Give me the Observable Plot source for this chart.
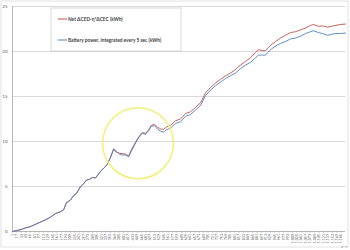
<!DOCTYPE html>
<html>
<head>
<meta charset="utf-8">
<script src="https://cdn.jsdelivr.net/npm/d3@7"></script>
<script src="https://cdn.jsdelivr.net/npm/@observablehq/plot@0.6"></script>
<style>
  html, body { margin: 0; padding: 0; background: #fff; }
</style>
</head>
<body>
<div id="chart"></div>
<script>
const seriesNames = ["Net \u0394CED-\u03b7*\u0394CEC (kWh)", "Battery power, integrated every 5 sec (kWh)"];
const seriesColors = ["#c0504d", "#4f81bd"];

const sampleIndex = [1,15,30,48,66,84,102,120,138,156,
  174,185,195,210,221,231,246,257,267,278,
  289,300,311,321,332,343,354,365,375,386,
  397,408,419,429,440,451,462,469,480,491,
  501,512,523,534,545,555,570,588,606,624,
  642,660,678,696,714,732,750,768,786,804,
  822,840,858,876,887,901,912,930,948,966,
  984,1002,1020,1038,1056,1074,1085,1103,1117,1135,
  1149,1163,1182,1200];

const netCED = [0,0.1,0.2,0.4,0.55,0.8,1.05,1.3,1.6,2.0,
  2.2,2.4,3.2,3.5,4.0,4.2,5.0,5.3,5.7,5.8,
  6.0,5.95,6.4,6.8,7.1,7.5,8.2,9.1,8.8,8.7,
  8.65,8.6,8.4,9.1,9.7,10.3,10.8,11.0,10.9,11.3,
  11.8,11.9,11.6,11.4,11.35,11.6,11.8,12.3,12.5,13.1,
  13.3,13.8,14.3,15.4,16.0,16.5,16.9,17.3,17.6,18.0,
  18.5,18.9,19.3,19.9,20.2,20.1,20.1,20.7,21.1,21.5,
  21.8,22.1,22.2,22.4,22.6,22.9,23.0,22.8,22.85,22.7,
  22.8,22.9,23.0,23.05];

const batteryPower = [0,0.1,0.2,0.4,0.55,0.8,1.05,1.3,1.6,2.0,
  2.2,2.4,3.2,3.5,4.0,4.2,5.0,5.3,5.7,5.8,
  6.0,5.95,6.4,6.8,7.1,7.5,8.3,9.2,8.9,8.6,
  8.5,8.5,8.3,8.9,9.6,10.2,10.7,10.9,10.8,11.2,
  11.7,11.75,11.4,11.15,11.05,11.3,11.5,12.0,12.2,12.8,
  13.0,13.5,14.0,15.1,15.7,16.2,16.6,17.0,17.3,17.6,
  18.1,18.5,18.8,19.3,19.6,19.6,19.6,20.2,20.6,20.9,
  21.1,21.4,21.5,21.7,22.0,22.2,22.3,22.1,22.0,21.8,
  21.9,22.0,22.0,22.05];

const yTicks = [0,5,10,15,20,25];
const xTicks = [1,17,33,49,65,81,97,113,129,145,161,177,193,209,225,241,257,273,289,305,
  321,337,353,369,385,401,417,433,449,465,481,497,513,529,545,561,577,593,609,625,
  641,657,673,689,705,721,737,753,769,785,801,817,833,849,865,881,897,913,929,945,
  961,977,993,1009,1025,1041,1057,1073,1089,1105,1121,1137,1153,1169,1185];

const highlightX = [453];
const highlightY = [9.8];

const rows = sampleIndex.map((x, i) => ({x, net: netCED[i], bat: batteryPower[i]}));
const circle = highlightX.map((x, i) => ({x, y: highlightY[i]}));

const chart = Plot.plot({
  width: 350,
  height: 250,
  marginLeft: 12,
  marginRight: 5,
  marginTop: 6,
  marginBottom: 19,
  style: {fontFamily: "Lato, 'Liberation Sans', sans-serif", background: "#fff", color: "#595959"},
  x: {type: "linear", domain: [1, 1200]},
  y: {domain: [0, 25]},
  marks: [
    Plot.ruleY(yTicks.filter(d => d > 0), {stroke: "#d0d0d0", strokeWidth: 0.8}),
    Plot.ruleX([1], {stroke: "#a6a6a6", strokeWidth: 0.8}),
    Plot.ruleY([0], {stroke: "#a6a6a6", strokeWidth: 0.8}),
    Plot.axisY(yTicks, {tickSize: 0, tickPadding: 5, fontSize: 4.5, fill: "#595959"}),
    Plot.axisX(xTicks, {tickSize: 1.5, tickRotate: -90, fontSize: 3.6, tickPadding: 1, fill: "#595959", stroke: "#a6a6a6"}),
    Plot.line(rows, {x: "x", y: "net", stroke: seriesColors[0], strokeWidth: 0.9}),
    Plot.line(rows, {x: "x", y: "bat", stroke: seriesColors[1], strokeWidth: 0.9}),
    Plot.dot(circle, {x: "x", y: "y", r: 35.5, fill: "none", stroke: "#f3f07a", strokeWidth: 1.6})
  ]
});

const svg = d3.select(chart);
// outer chart border
svg.append("rect").attr("x", 1).attr("y", 1).attr("width", 347).attr("height", 246)
  .attr("fill", "none").attr("stroke", "#d9d9d9").attr("stroke-width", 0.8);

// legend
const lg = svg.append("g").attr("text-anchor", "start");
lg.append("rect").attr("x", 51).attr("y", 8).attr("width", 130).attr("height", 43)
  .attr("fill", "#fff").attr("stroke", "#bfbfbf").attr("stroke-width", 0.6);
const legendY = [19, 40];
seriesNames.forEach((name, i) => {
  lg.append("line").attr("x1", 58).attr("x2", 67).attr("y1", legendY[i]).attr("y2", legendY[i])
    .attr("stroke", seriesColors[i]).attr("stroke-width", 1);
  lg.append("text").attr("x", 68).attr("y", legendY[i]).attr("dy", "0.35em")
    .attr("text-anchor", "start")
    .attr("font-size", 4.8).attr("font-weight", "bold").attr("fill", "#404040")
    .attr("font-family", "Lato, 'Liberation Sans', sans-serif").text(name);
});

document.getElementById("chart").appendChild(chart);
</script>
</body>
</html>
